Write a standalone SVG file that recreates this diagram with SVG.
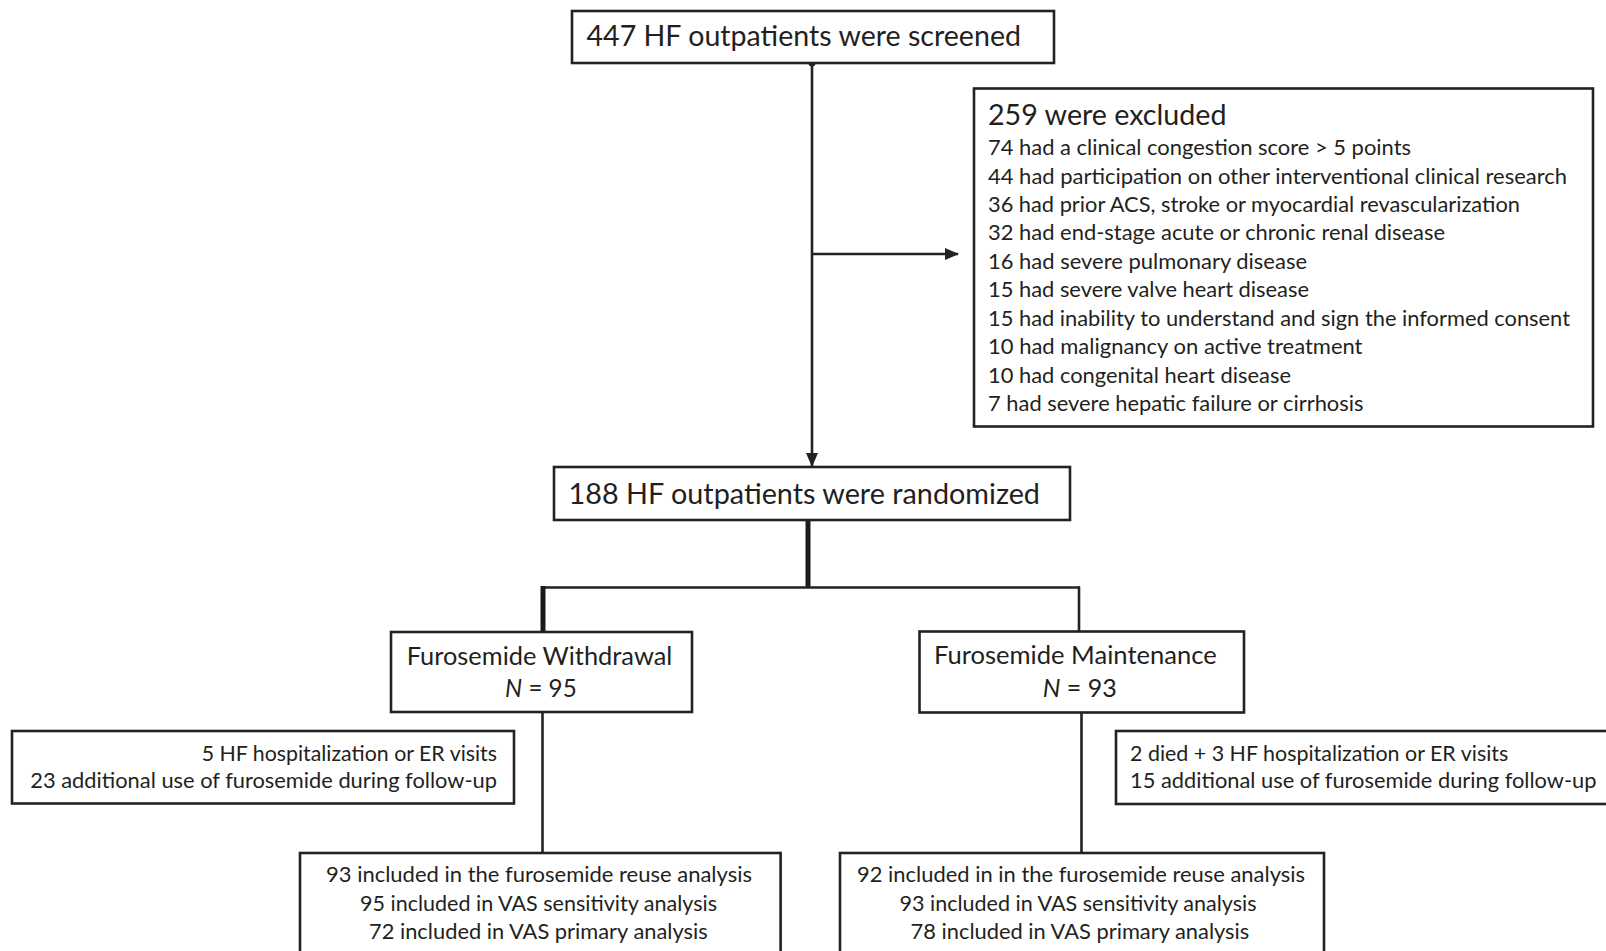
<svg xmlns="http://www.w3.org/2000/svg" width="1606" height="951" viewBox="0 0 1606 951">
  <style>
    .box { fill: #ffffff; stroke: #222222; stroke-width: 2.6; }
    .t { font-family: Lato, "Liberation Sans", sans-serif; fill: #231f20; }
    .h1 { font-size: 28px; }
    .h2 { font-size: 24.5px; }
    .b { font-size: 21px; }
    .line { fill: none; stroke: #222222; stroke-width: 2.6; }
    .thick { fill: none; stroke: #1a1a1a; stroke-width: 5; }
  </style>
  <defs>
    <marker id="arrow" markerUnits="userSpaceOnUse" markerWidth="14" markerHeight="12" refX="13" refY="6" orient="auto">
      <path d="M0,0 L14,6 L0,12 z" fill="#222222"/>
    </marker>
  </defs>

  <rect width="1606" height="951" fill="#ffffff"/>

  <!-- connectors -->
  <g id="connectors">
    <line class="line" x1="812" y1="63" x2="812" y2="466" marker-end="url(#arrow)"/>
    <line class="line" x1="812" y1="254" x2="958" y2="254" marker-end="url(#arrow)"/>
    <circle cx="812" cy="63" r="3.5" fill="#222222"/>
    <line class="thick" x1="808" y1="520" x2="808" y2="588"/>
    <line class="line" x1="541" y1="587.5" x2="1080" y2="587.5"/>
    <line class="thick" x1="543" y1="586" x2="543" y2="632"/>
    <line class="line" x1="1079" y1="586.5" x2="1079" y2="632"/>
    <line class="line" x1="542.5" y1="712" x2="542.5" y2="853"/>
    <line class="line" x1="1081.5" y1="712" x2="1081.5" y2="853"/>
  </g>

  <g id="screened">
    <rect class="box" x="572" y="11" width="482" height="52"/>
    <text class="t h1" x="586.5" y="45.7" textLength="434.5" lengthAdjust="spacingAndGlyphs">447 HF outpatients were screened</text>
  </g>

  <g id="excluded">
    <rect class="box" x="974" y="88.5" width="619" height="338"/>
    <text class="t h1" x="988" y="125" textLength="238.5" lengthAdjust="spacingAndGlyphs">259 were excluded</text>
    <text class="t b" x="988" y="155" textLength="423" lengthAdjust="spacingAndGlyphs">74 had a clinical congestion score &gt; 5 points</text>
    <text class="t b" x="988" y="183.5" textLength="579" lengthAdjust="spacingAndGlyphs">44 had participation on other interventional clinical research</text>
    <text class="t b" x="988" y="211.9" textLength="532" lengthAdjust="spacingAndGlyphs">36 had prior ACS, stroke or myocardial revascularization</text>
    <text class="t b" x="988" y="240.4" textLength="457" lengthAdjust="spacingAndGlyphs">32 had end-stage acute or chronic renal disease</text>
    <text class="t b" x="988" y="268.8" textLength="319" lengthAdjust="spacingAndGlyphs">16 had severe pulmonary disease</text>
    <text class="t b" x="988" y="297.3" textLength="321" lengthAdjust="spacingAndGlyphs">15 had severe valve heart disease</text>
    <text class="t b" x="988" y="325.7" textLength="582" lengthAdjust="spacingAndGlyphs">15 had inability to understand and sign the informed consent</text>
    <text class="t b" x="988" y="354.2" textLength="374.5" lengthAdjust="spacingAndGlyphs">10 had malignancy on active treatment</text>
    <text class="t b" x="988" y="382.6" textLength="303" lengthAdjust="spacingAndGlyphs">10 had congenital heart disease</text>
    <text class="t b" x="988" y="411" textLength="375.5" lengthAdjust="spacingAndGlyphs">7 had severe hepatic failure or cirrhosis</text>
  </g>

  <g id="randomized">
    <rect class="box" x="554" y="467" width="516" height="53"/>
    <text class="t h1" x="568.6" y="503.5" textLength="471.4" lengthAdjust="spacingAndGlyphs">188 HF outpatients were randomized</text>
  </g>

  <g id="withdrawal">
    <rect class="box" x="391" y="632" width="301" height="80"/>
    <text class="t h2" x="406.7" y="665" textLength="265.6" lengthAdjust="spacingAndGlyphs">Furosemide Withdrawal</text>
    <text class="t h2" x="505" y="696.7" textLength="71.7" lengthAdjust="spacingAndGlyphs"><tspan font-style="italic">N</tspan> = 95</text>
  </g>

  <g id="maintenance">
    <rect class="box" x="919.5" y="631.5" width="324.5" height="81"/>
    <text class="t h2" x="934" y="664.3" textLength="282.7" lengthAdjust="spacingAndGlyphs">Furosemide Maintenance</text>
    <text class="t h2" x="1042.7" y="696.7" textLength="74" lengthAdjust="spacingAndGlyphs"><tspan font-style="italic">N</tspan> = 93</text>
  </g>

  <g id="withdrawal-events">
    <rect class="box" x="12" y="731" width="502" height="72.5"/>
    <text class="t b" x="201.7" y="760.5" textLength="295.3" lengthAdjust="spacingAndGlyphs">5 HF hospitalization or ER visits</text>
    <text class="t b" x="30.3" y="788" textLength="466.7" lengthAdjust="spacingAndGlyphs">23 additional use of furosemide during follow-up</text>
  </g>

  <g id="maintenance-events">
    <rect class="box" x="1116" y="731" width="500" height="73"/>
    <text class="t b" x="1130" y="761" textLength="378.3" lengthAdjust="spacingAndGlyphs">2 died + 3 HF hospitalization or ER visits</text>
    <text class="t b" x="1130" y="788" textLength="466.5" lengthAdjust="spacingAndGlyphs">15 additional use of furosemide during follow-up</text>
  </g>

  <g id="withdrawal-analysis">
    <rect class="box" x="300" y="853" width="480.6" height="120"/>
    <text class="t b" x="326" y="882" textLength="426" lengthAdjust="spacingAndGlyphs">93 included in the furosemide reuse analysis</text>
    <text class="t b" x="360" y="910.5" textLength="357" lengthAdjust="spacingAndGlyphs">95 included in VAS sensitivity analysis</text>
    <text class="t b" x="369" y="938.5" textLength="338.7" lengthAdjust="spacingAndGlyphs">72 included in VAS primary analysis</text>
  </g>

  <g id="maintenance-analysis">
    <rect class="box" x="840" y="853" width="484" height="120"/>
    <text class="t b" x="857" y="882" textLength="448" lengthAdjust="spacingAndGlyphs">92 included in in the furosemide reuse analysis</text>
    <text class="t b" x="899.5" y="910.5" textLength="357" lengthAdjust="spacingAndGlyphs">93 included in VAS sensitivity analysis</text>
    <text class="t b" x="910.6" y="938.5" textLength="338.7" lengthAdjust="spacingAndGlyphs">78 included in VAS primary analysis</text>
  </g>
</svg>
